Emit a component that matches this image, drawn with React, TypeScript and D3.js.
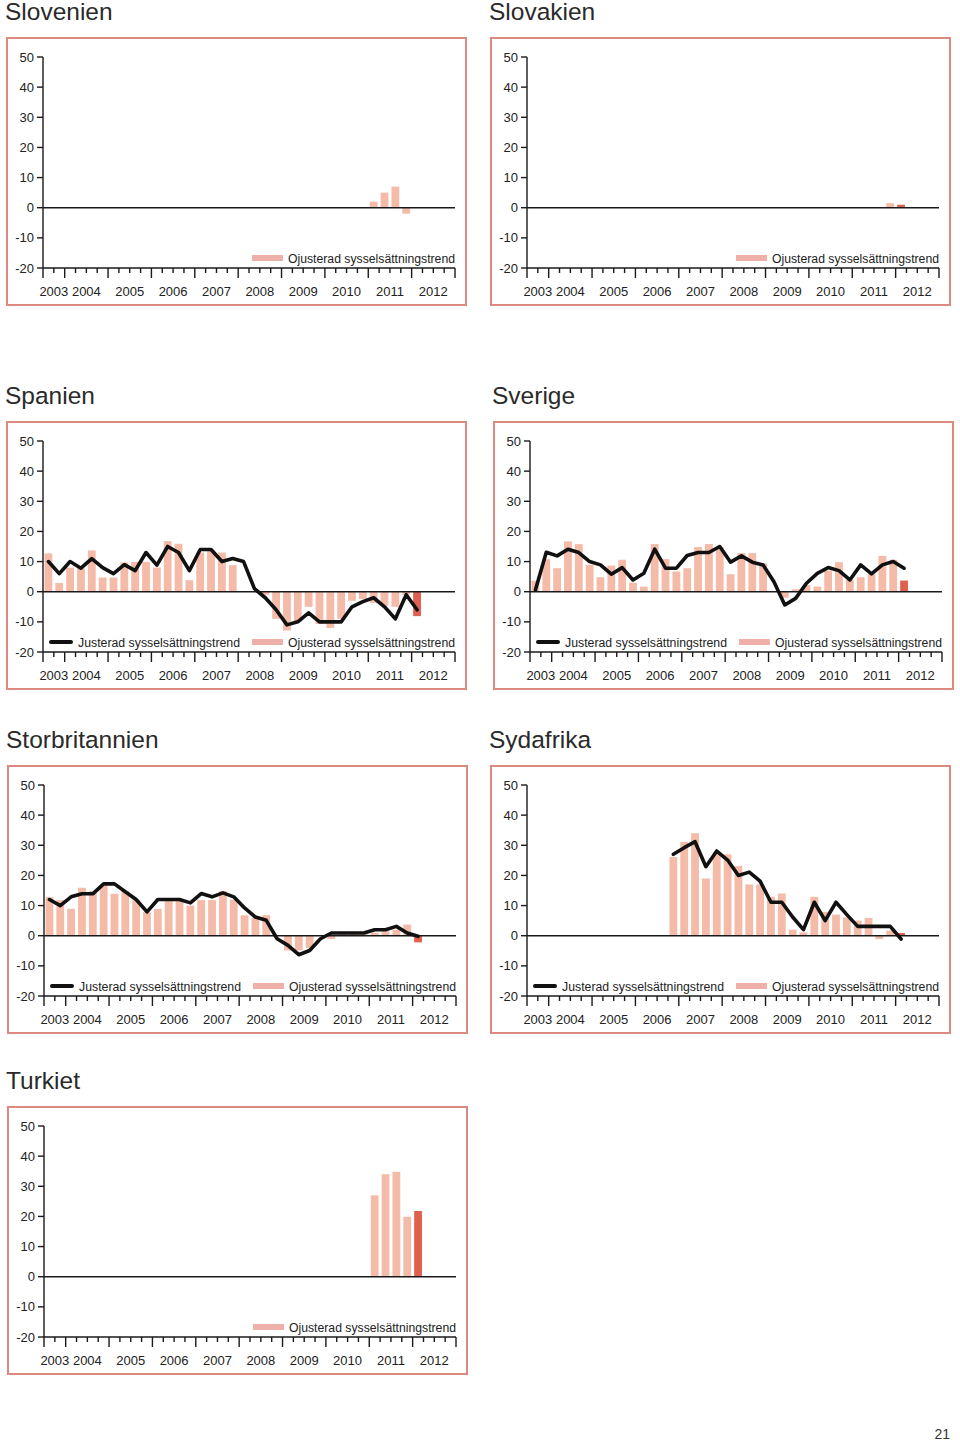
import React from "react";
import * as d3 from "d3";

// ---------- categories ----------
const quarters = [
  "2003Q3", "2003Q4",
  "2004Q1", "2004Q2", "2004Q3", "2004Q4",
  "2005Q1", "2005Q2", "2005Q3", "2005Q4",
  "2006Q1", "2006Q2", "2006Q3", "2006Q4",
  "2007Q1", "2007Q2", "2007Q3", "2007Q4",
  "2008Q1", "2008Q2", "2008Q3", "2008Q4",
  "2009Q1", "2009Q2", "2009Q3", "2009Q4",
  "2010Q1", "2010Q2", "2010Q3", "2010Q4",
  "2011Q1", "2011Q2", "2011Q3", "2011Q4",
  "2012Q1", "2012Q2", "2012Q3", "2012Q4",
];
const years = ["2003", "2004", "2005", "2006", "2007", "2008", "2009", "2010", "2011", "2012"];
const yTicks = [-20, -10, 0, 10, 20, 30, 40, 50];
const latestQuarter = "2012Q1";

const legendAdjusted = "Justerad sysselsättningstrend";
const legendUnadjusted = "Ojusterad sysselsättningstrend";

// ---------- series ----------
// Slovenien
const sloveniaUnadjStart = "2011Q1";
const sloveniaUnadj = [2, 5, 7, -2];

// Slovakien
const slovakiaUnadjStart = "2011Q4";
const slovakiaUnadj = [1.5, 1];

// Spanien
const spainStart = "2003Q3";
const spainUnadj = [12.7, 2.9, 8, 7.7, 13.7, 4.7, 4.7, 9.7, 9.9, 9.9, 8, 16.8, 15.9, 3.8, 13, 13.7, 13, 8.8, 0, 0, -1, -9, -12.9, -10, -5, -10.7, -12, -9, -3, -2.4, -3.7, -4.6, -5, -1, -8.1];
const spainAdj = [10, 6, 10, 7.8, 11, 8, 6, 9, 7, 13, 8.8, 15, 13, 7, 14, 14, 10, 11, 10, 1, -2, -6, -11, -10, -7, -10, -10, -10, -5, -3.3, -2, -5, -9, -1, -6];

// Sverige
const swedenStart = "2003Q3";
const swedenUnadj = [3.6, 10.8, 7.8, 16.7, 15.8, 8.9, 4.8, 8.7, 10.6, 3, 1.7, 15.8, 10.8, 6.7, 7.8, 14.8, 15.8, 14.8, 5.8, 12.8, 12.8, 9.4, 0, -2, 0.8, 2.2, 1.7, 7, 9.8, 3.9, 4.8, 5.8, 11.9, 10.6, 3.7];
const swedenAdj = [0.6, 13.1, 11.9, 14.1, 13, 10, 8.9, 5.8, 8, 3.9, 6.1, 14.1, 7.8, 7.8, 12, 13, 13, 15, 9.8, 11.9, 9.8, 8.9, 3.3, -4.4, -2.2, 2.8, 6.1, 8, 7, 3.9, 8.9, 5.9, 8.9, 10, 7.8];

// Storbritannien
const ukStart = "2003Q3";
const ukUnadj = [12.8, 11.8, 8.9, 15.9, 14.8, 16.7, 13.9, 14.8, 11.8, 7.8, 8.9, 11.8, 11.8, 10, 11.8, 11.8, 14.8, 12, 6.8, 5.9, 6.8, 0, -4.9, -4.9, -4.1, 0, -1.1, 0.5, 0.5, 0.5, 1, 1.5, 2, 3.7, -2.2];
const ukAdj = [12, 10, 12.9, 13.9, 13.9, 17.2, 17.2, 14.6, 12, 7.9, 12, 12, 12, 10.9, 14, 12.9, 14.2, 12.9, 9.2, 6.2, 5.1, -1, -3.2, -6.3, -4.9, -1, 0.9, 0.9, 0.9, 0.9, 2, 2, 3.1, 0.9, -0.2];

// Sydafrika
const saStart = "2006Q4";
const saUnadj = [26.1, 31.1, 34, 19, 27.6, 27, 23.1, 17, 17, 12.9, 14, 2, 1.1, 12.9, 7.9, 7, 6.1, 5, 5.9, -1.1, 1.7, 0.9];
const saAdj = [27, 29.2, 31.2, 22.9, 28.1, 25.1, 20, 21.1, 18.1, 11.1, 11.1, 6.2, 2, 11.1, 5, 11.1, 7, 3.1, 3.1, 3.1, 3.1, -1.1];

// Turkiet
const turkeyUnadjStart = "2011Q1";
const turkeyUnadj = [27, 34, 34.8, 19.9, 21.8];

// ---------- styling ----------
const FONT = "'Liberation Sans', Arial, Helvetica, sans-serif";
const BORDER = "#dc8a80";
const BAR = "#f4bba9";
const BAR_DARK = "#e0604f";
const SWATCH = "#efb0a9";
const INK = "#1a1a1a";

type PanelProps = {
  title: string;
  x0: number;
  y0: number;
  unadj: number[];
  unadjStart: string;
  adj?: number[];
  adjStart?: string;
};

function Panel({ title, x0, y0, unadj, unadjStart, adj, adjStart }: PanelProps) {
  const axisX = x0 + 36;
  const axisR = axisX + 412;
  const band = d3.scaleBand<string>().domain(quarters).range([axisX, axisR]).paddingInner(0.28).paddingOuter(0.14);
  const qx = d3.scaleLinear().domain([0, quarters.length]).range([axisX, axisR]);
  const y = d3.scaleLinear().domain([-20, 50]).range([y0 + 230, y0 + 19]);
  const bw = band.bandwidth();
  const yBottom = y(-20);
  const y0v = y(0);

  const bStart = quarters.indexOf(unadjStart);
  const bars = unadj.map((v, k) => ({ q: quarters[bStart + k], v }));

  let linePath: string | null = null;
  if (adj && adjStart) {
    const lStart = quarters.indexOf(adjStart);
    const pts = adj.map((v, k) => ({ q: quarters[lStart + k], v }));
    linePath = d3
      .line<{ q: string; v: number }>()
      .x((d) => (band(d.q) as number) + bw / 2)
      .y((d) => y(d.v))(pts);
  }

  const boundaries = d3.range(1, quarters.length + 1);
  const isMajor = (b: number) => b === quarters.length || quarters[b].endsWith("Q1");

  const yearCenters = years.map((yr) => {
    const first = quarters.findIndex((q) => q.startsWith(yr));
    let last = first;
    while (last + 1 < quarters.length && quarters[last + 1].startsWith(yr)) last++;
    return { yr, x: qx((first + last + 1) / 2) };
  });

  const legendY = y0 + 220;

  return (
    <g>
      <text x={x0 - 2} y={y0 - 18} fontSize={24.5} fill="#2a2a2a" fontFamily={FONT}>
        {title}
      </text>
      <rect x={x0} y={y0} width={459} height={267} fill="none" stroke={BORDER} strokeWidth={2} />

      {bars.map((b) =>
        b.v === 0 ? null : (
          <rect
            key={b.q}
            x={band(b.q) as number}
            width={bw}
            y={Math.min(y(b.v), y0v)}
            height={Math.abs(y(b.v) - y0v)}
            fill={b.q === latestQuarter ? BAR_DARK : BAR}
          />
        )
      )}

      <line x1={axisX} x2={axisR} y1={y0v} y2={y0v} stroke={INK} strokeWidth={1.4} />

      {linePath && (
        <path d={linePath} fill="none" stroke="#111" strokeWidth={3.6} strokeLinejoin="round" strokeLinecap="round" />
      )}

      <line x1={axisX} x2={axisX} y1={y(50)} y2={yBottom + 10} stroke={INK} strokeWidth={1.4} />
      {yTicks.map((t) => (
        <g key={t}>
          <line x1={axisX - 6} x2={axisX} y1={y(t)} y2={y(t)} stroke={INK} strokeWidth={1.4} />
          <text x={axisX - 9} y={y(t) + 4.5} textAnchor="end" fontSize={13} fill="#222" fontFamily={FONT}>
            {t}
          </text>
        </g>
      ))}

      <line x1={axisX} x2={axisR} y1={yBottom} y2={yBottom} stroke={INK} strokeWidth={1.4} />
      {boundaries.map((b) => (
        <line
          key={b}
          x1={qx(b)}
          x2={qx(b)}
          y1={yBottom}
          y2={yBottom + (isMajor(b) ? 10 : 5)}
          stroke={INK}
          strokeWidth={1.4}
        />
      ))}
      {yearCenters.map((c) => (
        <text key={c.yr} x={c.x} y={yBottom + 28} textAnchor="middle" fontSize={13} fill="#222" fontFamily={FONT}>
          {c.yr}
        </text>
      ))}

      {linePath && (
        <g>
          <line x1={x0 + 44} x2={x0 + 64} y1={legendY} y2={legendY} stroke="#111" strokeWidth={4} strokeLinecap="round" />
          <text
            x={x0 + 71}
            y={legendY + 4.5}
            fontSize={12.5}
            fill="#222"
            fontFamily={FONT}
            textLength={162}
            lengthAdjust="spacingAndGlyphs"
          >
            {legendAdjusted}
          </text>
        </g>
      )}
      <rect x={x0 + 245} y={legendY - 3} width={31} height={6} fill={SWATCH} />
      <text
        x={x0 + 281}
        y={legendY + 4.5}
        fontSize={12.5}
        fill="#222"
        fontFamily={FONT}
        textLength={167}
        lengthAdjust="spacingAndGlyphs"
      >
        {legendUnadjusted}
      </text>
    </g>
  );
}

export default function App() {
  return (
    <>
      <style>{`html, body { margin: 0; padding: 0; background: #fff; }`}</style>
      <svg width={960} height={1442} viewBox="0 0 960 1442" style={{ display: "block", background: "#fff" }}>
        <Panel title="Slovenien" x0={7} y0={38} unadj={sloveniaUnadj} unadjStart={sloveniaUnadjStart} />
        <Panel title="Slovakien" x0={491} y0={38} unadj={slovakiaUnadj} unadjStart={slovakiaUnadjStart} />
        <Panel title="Spanien" x0={7} y0={422} unadj={spainUnadj} unadjStart={spainStart} adj={spainAdj} adjStart={spainStart} />
        <Panel title="Sverige" x0={494} y0={422} unadj={swedenUnadj} unadjStart={swedenStart} adj={swedenAdj} adjStart={swedenStart} />
        <Panel title="Storbritannien" x0={8} y0={766} unadj={ukUnadj} unadjStart={ukStart} adj={ukAdj} adjStart={ukStart} />
        <Panel title="Sydafrika" x0={491} y0={766} unadj={saUnadj} unadjStart={saStart} adj={saAdj} adjStart={saStart} />
        <Panel title="Turkiet" x0={8} y0={1107} unadj={turkeyUnadj} unadjStart={turkeyUnadjStart} />
        <text x={950} y={1439} textAnchor="end" fontSize={14} fill="#333" fontFamily={FONT}>
          21
        </text>
      </svg>
    </>
  );
}
